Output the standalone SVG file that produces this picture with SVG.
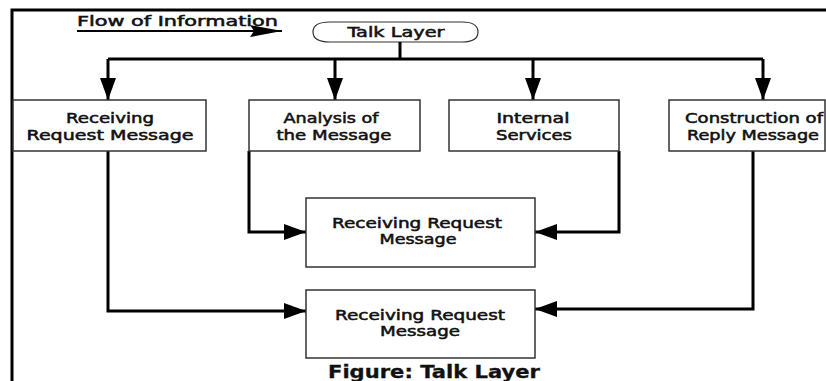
<svg xmlns="http://www.w3.org/2000/svg" width="826" height="381" viewBox="0 0 826 381">
<defs>
<marker id="ah" markerUnits="userSpaceOnUse" markerWidth="24" markerHeight="18" refX="22" refY="8" orient="auto">
<path d="M0,0 L22,8 L0,16 Z" fill="#000"/>
</marker>
<marker id="ahs" markerUnits="userSpaceOnUse" markerWidth="34" markerHeight="14" refX="32" refY="6" orient="auto">
<path d="M0,0 L32,6 L0,12 L4,6 Z" fill="#000"/>
</marker>
</defs>
<style>
.box{fill:#fff;stroke:#333;stroke-width:1.5}
.t{font-family:"DejaVu Sans",Verdana,sans-serif;font-size:14.5px;font-weight:normal;fill:#111;stroke:#111;stroke-width:0.55;text-anchor:middle}
.c{fill:none;stroke:#000;stroke-width:3}
</style>
<rect width="826" height="381" fill="#fff"/>
<path d="M12,381 V10 H826" fill="none" stroke="#000" stroke-width="3"/>
<g id="legend">
<text x="77" y="26" class="t" style="text-anchor:start" textLength="201" lengthAdjust="spacingAndGlyphs">Flow of Information</text>
<line x1="77" y1="31" x2="282" y2="31" stroke="#000" stroke-width="2" marker-end="url(#ahs)"/>
</g>
<g id="talk">
<path class="box" d="M330,22 H462 Q478,22 478,32 Q478,42 462,42 H330 Q313,42 313,32 Q313,22 330,22 Z" style="stroke-width:1.2"/>
<text x="396" y="37" class="t" textLength="97" lengthAdjust="spacingAndGlyphs">Talk Layer</text>
</g>
<g id="connectors">
<path class="c" d="M400,42 V59"/>
<path class="c" d="M108,59 H763"/>
<path class="c" d="M108,59 V100" marker-end="url(#ah)"/>
<path class="c" d="M335,59 V100" marker-end="url(#ah)"/>
<path class="c" d="M533,59 V100" marker-end="url(#ah)"/>
<path class="c" d="M763,59 V100" marker-end="url(#ah)"/>
<path class="c" d="M249,151 V232 H306" marker-end="url(#ah)"/>
<path class="c" d="M619,151 V232 H535" marker-end="url(#ah)"/>
<path class="c" d="M108,151 V311 H306" marker-end="url(#ah)"/>
<path class="c" d="M753,151 V309 H535" marker-end="url(#ah)"/>
</g>
<g id="n1">
<rect class="box" x="13" y="100" width="193" height="51"/>
<text x="110" y="123" class="t" textLength="88" lengthAdjust="spacingAndGlyphs">Receiving</text>
<text x="110" y="140" class="t" textLength="167" lengthAdjust="spacingAndGlyphs">Request Message</text>
</g>
<g id="n2">
<rect class="box" x="249" y="100" width="171" height="51"/>
<text x="331" y="123" class="t" textLength="95" lengthAdjust="spacingAndGlyphs">Analysis of</text>
<text x="334" y="140" class="t" textLength="115" lengthAdjust="spacingAndGlyphs">the Message</text>
</g>
<g id="n3">
<rect class="box" x="449" y="100" width="170" height="51"/>
<text x="533" y="123" class="t" textLength="73" lengthAdjust="spacingAndGlyphs">Internal</text>
<text x="534" y="140" class="t" textLength="76" lengthAdjust="spacingAndGlyphs">Services</text>
</g>
<g id="n4">
<rect class="box" x="669" y="100" width="156" height="51"/>
<text x="754" y="123" class="t" textLength="138" lengthAdjust="spacingAndGlyphs">Construction of</text>
<text x="753" y="140" class="t" textLength="132" lengthAdjust="spacingAndGlyphs">Reply Message</text>
</g>
<g id="n5">
<rect class="box" x="306" y="198" width="229" height="69"/>
<text x="417" y="228" class="t" textLength="170" lengthAdjust="spacingAndGlyphs">Receiving Request</text>
<text x="418" y="244" class="t" textLength="77" lengthAdjust="spacingAndGlyphs">Message</text>
</g>
<g id="n6">
<rect class="box" x="306" y="290" width="229" height="68"/>
<text x="420" y="320" class="t" textLength="170" lengthAdjust="spacingAndGlyphs">Receiving Request</text>
<text x="420" y="336" class="t" textLength="80" lengthAdjust="spacingAndGlyphs">Message</text>
</g>
<text x="434" y="378" class="t" style="font-size:17px;font-weight:bold;stroke-width:0.3" textLength="212" lengthAdjust="spacingAndGlyphs">Figure: Talk Layer</text>
</svg>
